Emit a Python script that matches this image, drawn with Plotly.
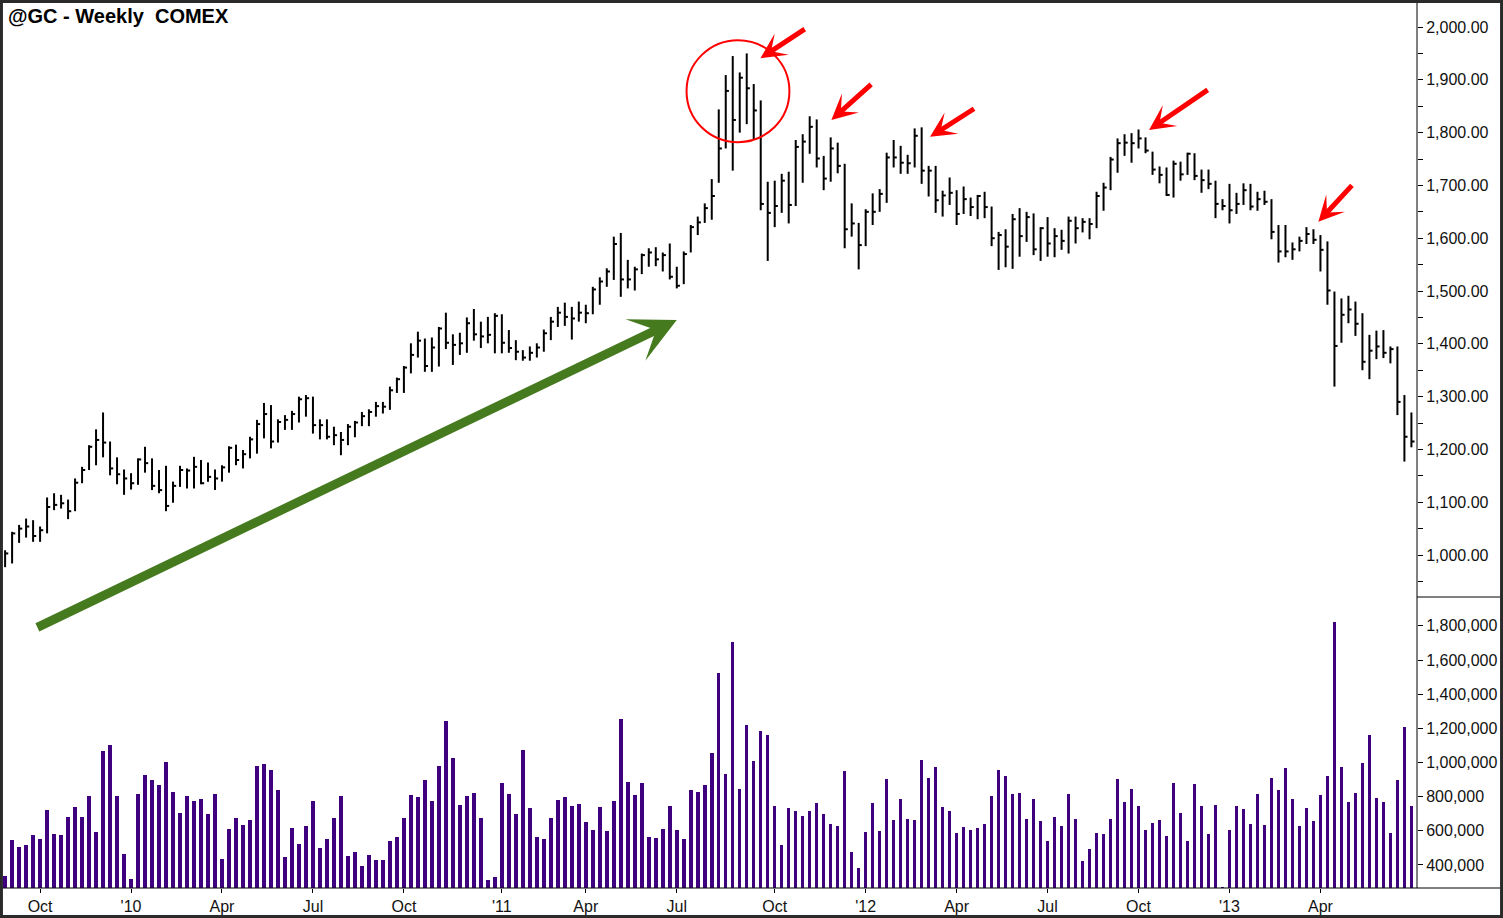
import plotly.graph_objects as go

# ---------------- data (weekly bars, index 0 = first week shown) ----------------
highs = [1009, 1044, 1057, 1069, 1066, 1054, 1109, 1117, 1114, 1105,
         1145, 1167, 1208, 1238, 1270, 1215, 1185, 1162, 1155, 1183,
         1205, 1183, 1161, 1169, 1139, 1169, 1164, 1186, 1180, 1175,
         1162, 1170, 1206, 1209, 1199, 1224, 1256, 1288, 1284, 1257,
         1265, 1273, 1300, 1303, 1300, 1257, 1257, 1243, 1233, 1248,
         1254, 1271, 1276, 1290, 1290, 1319, 1336, 1358, 1401, 1423,
         1410, 1412, 1432, 1459, 1418, 1421, 1450, 1466, 1442, 1451,
         1458, 1456, 1426, 1407, 1388, 1395, 1401, 1427, 1451, 1470,
         1478, 1470, 1480, 1474, 1508, 1526, 1543, 1603, 1610, 1559,
         1546, 1571, 1581, 1583, 1573, 1590, 1546, 1575, 1625, 1641,
         1666, 1712, 1844, 1909, 1945, 1914, 1950, 1892, 1861, 1707,
         1709, 1722, 1726, 1786, 1797, 1831, 1825, 1756, 1791, 1781,
         1741, 1666, 1629, 1655, 1685, 1693, 1762, 1786, 1775, 1758,
         1808, 1810, 1737, 1737, 1690, 1715, 1691, 1698, 1677, 1682,
         1688, 1660, 1612, 1617, 1646, 1657, 1650, 1647, 1621, 1640,
         1619, 1616, 1641, 1641, 1638, 1638, 1688, 1705, 1754, 1789,
         1797, 1799, 1806, 1791, 1764, 1736, 1734, 1747, 1745, 1762,
         1761, 1730, 1730, 1709, 1674, 1703, 1686, 1704, 1703, 1688,
         1690, 1674, 1625, 1625, 1592, 1603, 1621, 1617, 1606, 1594,
         1499, 1486, 1491, 1480, 1458, 1417, 1425, 1426, 1395, 1395,
         1303, 1270]
lows = [977, 984, 1023, 1033, 1025, 1025, 1041, 1085, 1088, 1068,
        1083, 1136, 1161, 1170, 1185, 1151, 1134, 1114, 1124, 1133,
        1156, 1123, 1117, 1083, 1099, 1129, 1126, 1126, 1134, 1139,
        1123, 1139, 1156, 1170, 1164, 1183, 1192, 1221, 1202, 1213,
        1237, 1237, 1251, 1262, 1230, 1219, 1219, 1208, 1189, 1208,
        1223, 1244, 1244, 1262, 1268, 1275, 1307, 1307, 1344, 1374,
        1347, 1347, 1357, 1390, 1360, 1379, 1383, 1406, 1392, 1401,
        1382, 1382, 1383, 1369, 1368, 1368, 1374, 1385, 1407, 1432,
        1434, 1408, 1442, 1439, 1456, 1474, 1508, 1521, 1489, 1505,
        1501, 1532, 1546, 1547, 1537, 1522, 1505, 1513, 1573, 1606,
        1629, 1635, 1705, 1770, 1728, 1800, 1816, 1787, 1653, 1557,
        1621, 1648, 1628, 1661, 1705, 1760, 1734, 1691, 1707, 1723,
        1581, 1603, 1541, 1585, 1625, 1650, 1667, 1734, 1722, 1722,
        1734, 1703, 1679, 1648, 1641, 1663, 1625, 1646, 1642, 1636,
        1638, 1585, 1540, 1545, 1542, 1565, 1593, 1568, 1557, 1565,
        1564, 1578, 1571, 1590, 1611, 1598, 1619, 1652, 1691, 1724,
        1756, 1743, 1770, 1761, 1720, 1704, 1680, 1677, 1709, 1720,
        1710, 1686, 1693, 1638, 1653, 1628, 1646, 1663, 1653, 1652,
        1663, 1598, 1554, 1564, 1559, 1575, 1589, 1589, 1537, 1474,
        1319, 1402, 1439, 1415, 1350, 1333, 1371, 1373, 1363, 1265,
        1177, 1204]
closes = [1003, 1041, 1050, 1054, 1036, 1047, 1091, 1095, 1098, 1083,
          1137, 1161, 1205, 1218, 1213, 1164, 1153, 1145, 1136, 1181,
          1174, 1131, 1123, 1093, 1131, 1161, 1160, 1167, 1136, 1148,
          1145, 1166, 1203, 1180, 1191, 1219, 1248, 1267, 1215, 1252,
          1256, 1267, 1295, 1297, 1246, 1246, 1224, 1227, 1218, 1243,
          1251, 1263, 1271, 1282, 1281, 1312, 1333, 1355, 1379, 1406,
          1358, 1393, 1429, 1402, 1398, 1401, 1439, 1418, 1414, 1417,
          1453, 1402, 1392, 1385, 1374, 1383, 1393, 1420, 1442, 1459,
          1451, 1448, 1459, 1458, 1503, 1518, 1537, 1589, 1522, 1522,
          1541, 1568, 1573, 1560, 1568, 1527, 1510, 1570, 1621, 1630,
          1657, 1680, 1770, 1879, 1824, 1904, 1884, 1842, 1665, 1648,
          1661, 1709, 1663, 1773, 1783, 1811, 1751, 1713, 1770, 1737,
          1617, 1628, 1587, 1650, 1650, 1684, 1753, 1753, 1743, 1742,
          1794, 1728, 1728, 1672, 1681, 1686, 1646, 1674, 1659, 1680,
          1659, 1600, 1606, 1584, 1636, 1604, 1640, 1579, 1619, 1590,
          1604, 1595, 1633, 1619, 1631, 1627, 1680, 1696, 1749, 1780,
          1781, 1780, 1789, 1766, 1730, 1720, 1682, 1741, 1721, 1760,
          1718, 1710, 1703, 1665, 1661, 1653, 1665, 1691, 1660, 1674,
          1669, 1612, 1575, 1575, 1579, 1595, 1608, 1597, 1578, 1501,
          1396, 1455, 1465, 1438, 1366, 1387, 1395, 1383, 1390, 1290,
          1224, 1215]
volumes = [336000, 546000, 505000, 517000, 576000, 552000, 722000, 582000, 576000, 681000,
           740000, 681000, 804000, 593000, 1068000, 1103000, 804000, 464000, 318000, 816000,
           927000, 898000, 869000, 1003000, 828000, 705000, 804000, 775000, 787000, 699000,
           816000, 435000, 611000, 675000, 634000, 664000, 980000, 991000, 956000, 839000,
           447000, 617000, 523000, 628000, 775000, 500000, 552000, 675000, 804000, 453000,
           476000, 394000, 459000, 429000, 429000, 541000, 564000, 675000, 810000, 798000,
           898000, 775000, 980000, 1243000, 1027000, 751000, 804000, 822000, 675000, 312000,
           330000, 880000, 816000, 699000, 1073000, 734000, 564000, 552000, 675000, 781000,
           798000, 746000, 757000, 652000, 605000, 740000, 599000, 775000, 1255000, 886000,
           810000, 880000, 564000, 558000, 611000, 746000, 605000, 552000, 839000, 827000,
           868000, 1056000, 1524000, 933000, 1706000, 845000, 1220000, 1009000, 1185000, 1161000,
           746000, 517000, 734000, 716000, 687000, 716000, 763000, 699000, 640000, 628000,
           950000, 476000, 382000, 593000, 763000, 599000, 904000, 664000, 786000, 669000,
           664000, 1015000, 909000, 974000, 740000, 716000, 587000, 623000, 605000, 617000,
           640000, 804000, 955000, 921000, 816000, 822000, 669000, 786000, 658000, 541000,
           681000, 628000, 816000, 669000, 423000, 494000, 587000, 582000, 669000, 901000,
           769000, 845000, 746000, 605000, 646000, 664000, 570000, 880000, 705000, 541000,
           874000, 746000, 582000, 751000, 272000, 605000, 746000, 728000, 640000, 816000,
           634000, 907000, 839000, 968000, 786000, 628000, 734000, 658000, 810000, 921000,
           1823000, 974000, 769000, 822000, 997000, 1161000, 792000, 769000, 587000, 898000,
           1208000, 746000]

tick_positions = [5, 18, 31, 44, 57, 71, 83, 96, 110, 123, 136, 149, 162, 175, 188]
tick_labels = ["Oct", "'10", "Apr", "Jul", "Oct", "'11", "Apr", "Jul", "Oct",
               "'12", "Apr", "Jul", "Oct", "'13", "Apr"]

title_text = "@GC - Weekly\u00a0 COMEX"

# ---------------- build HLC bar segments from the data ----------------
idx = list(range(len(closes)))
seg_x, seg_y = [], []
for i, h, l, c in zip(idx, highs, lows, closes):
    seg_x += [i, i, None, i, i + 0.45, None]
    seg_y += [l, h, None, c, c, None]

FONT = "Arial, Liberation Sans, sans-serif"

fig = go.Figure()
fig.add_trace(go.Bar(x=idx, y=volumes, yaxis="y2", width=0.5,
                     marker=dict(color="#3f0080", line=dict(width=0)),
                     hoverinfo="skip", showlegend=False))
fig.add_trace(go.Scatter(x=seg_x, y=seg_y, mode="lines",
                         line=dict(color="black", width=2),
                         hoverinfo="skip", showlegend=False, connectgaps=False))

split = (888 - 597) / 885.0

fig.update_layout(
    width=1503, height=918,
    margin=dict(l=3, r=86, t=3, b=30, pad=0),
    paper_bgcolor="white", plot_bgcolor="white",
    font=dict(family=FONT, color="#111111", size=16),
    showlegend=False, bargap=0,
    xaxis=dict(domain=[0, 1], range=[-0.3, 201.8], anchor="y2",
               tickmode="array", tickvals=tick_positions, ticktext=tick_labels,
               ticks="outside", ticklen=4, tickcolor="black", tickwidth=1,
               showgrid=False, zeroline=False, showline=False,
               tickfont=dict(size=16, family=FONT, color="#111111")),
    yaxis=dict(domain=[split, 1], range=[920.5, 2045.5], side="right", anchor="x",
               dtick=100, tick0=0, tickformat=",.2f",
               ticks="outside", ticklen=5, tickcolor="black", tickwidth=1,
               minor=dict(dtick=50, tick0=0, ticks="outside", ticklen=5, tickcolor="black"),
               showgrid=False, zeroline=False, showline=False,
               tickfont=dict(size=16, family=FONT, color="#111111")),
    yaxis2=dict(domain=[0, split], range=[265000, 1969000], side="right", anchor="x",
                dtick=200000, tick0=0, tickformat=",d",
                ticks="outside", ticklen=5, tickcolor="black", tickwidth=1,
                showgrid=False, zeroline=False, showline=False,
                tickfont=dict(size=16, family=FONT, color="#111111")),
)

# frame lines
shapes = [
    dict(type="line", xref="paper", yref="paper", x0=-0.003, x1=1.06, y0=0, y1=0,
         line=dict(color="black", width=1)),
    dict(type="line", xref="paper", yref="paper", x0=1, x1=1, y0=0, y1=1.003,
         line=dict(color="black", width=1)),
    dict(type="line", xref="paper", yref="paper", x0=1, x1=1.06, y0=split, y1=split,
         line=dict(color="black", width=1)),
    dict(type="rect", xref="paper", yref="paper", x0=-0.0011, x1=1.0598,
         y0=-0.0322, y1=1.0017, line=dict(color="#2a2a2a", width=3)),
    # red circle around the top
    dict(type="circle", xref="x", yref="y", x0=97.4, x1=112.1, y0=1782, y1=1975,
         line=dict(color="#ff0000", width=2)),
]
fig.update_layout(shapes=shapes)

annotations = [
    dict(text="<b>" + title_text + "</b>", xref="paper", yref="paper",
         x=0.0021, y=(888 - 16) / 885.0, xanchor="left", yanchor="middle",
         showarrow=False, font=dict(family=FONT, size=20, color="black")),
    # green trend arrow
    dict(x=96.0, y=1445, ax=4.4, ay=861.7, xref="x", yref="y", axref="x", ayref="y",
         text="", showarrow=True, arrowhead=3, arrowsize=0.85, arrowwidth=9,
         arrowcolor="#467a1f", standoff=0),
]
red_arrows = [
    (107.96, 1941, 114.5, 1998),
    (118.1, 1824, 124.0, 1894),
    (132.2, 1792, 138.7, 1847),
    (163.5, 1805, 172.1, 1883),
    (187.7, 1631, 192.7, 1703),
]
for hx, hy, tx, ty in red_arrows:
    annotations.append(dict(x=hx, y=hy, ax=tx, ay=ty, xref="x", yref="y",
                            axref="x", ayref="y", text="", showarrow=True,
                            arrowhead=3, arrowsize=0.85, arrowwidth=5,
                            arrowcolor="#ff0000", standoff=0))
fig.update_layout(annotations=annotations)

fig.write_html("out.html", config={"displayModeBar": False},
               post_script="document.body.style.margin='0';document.body.style.padding='0';")
